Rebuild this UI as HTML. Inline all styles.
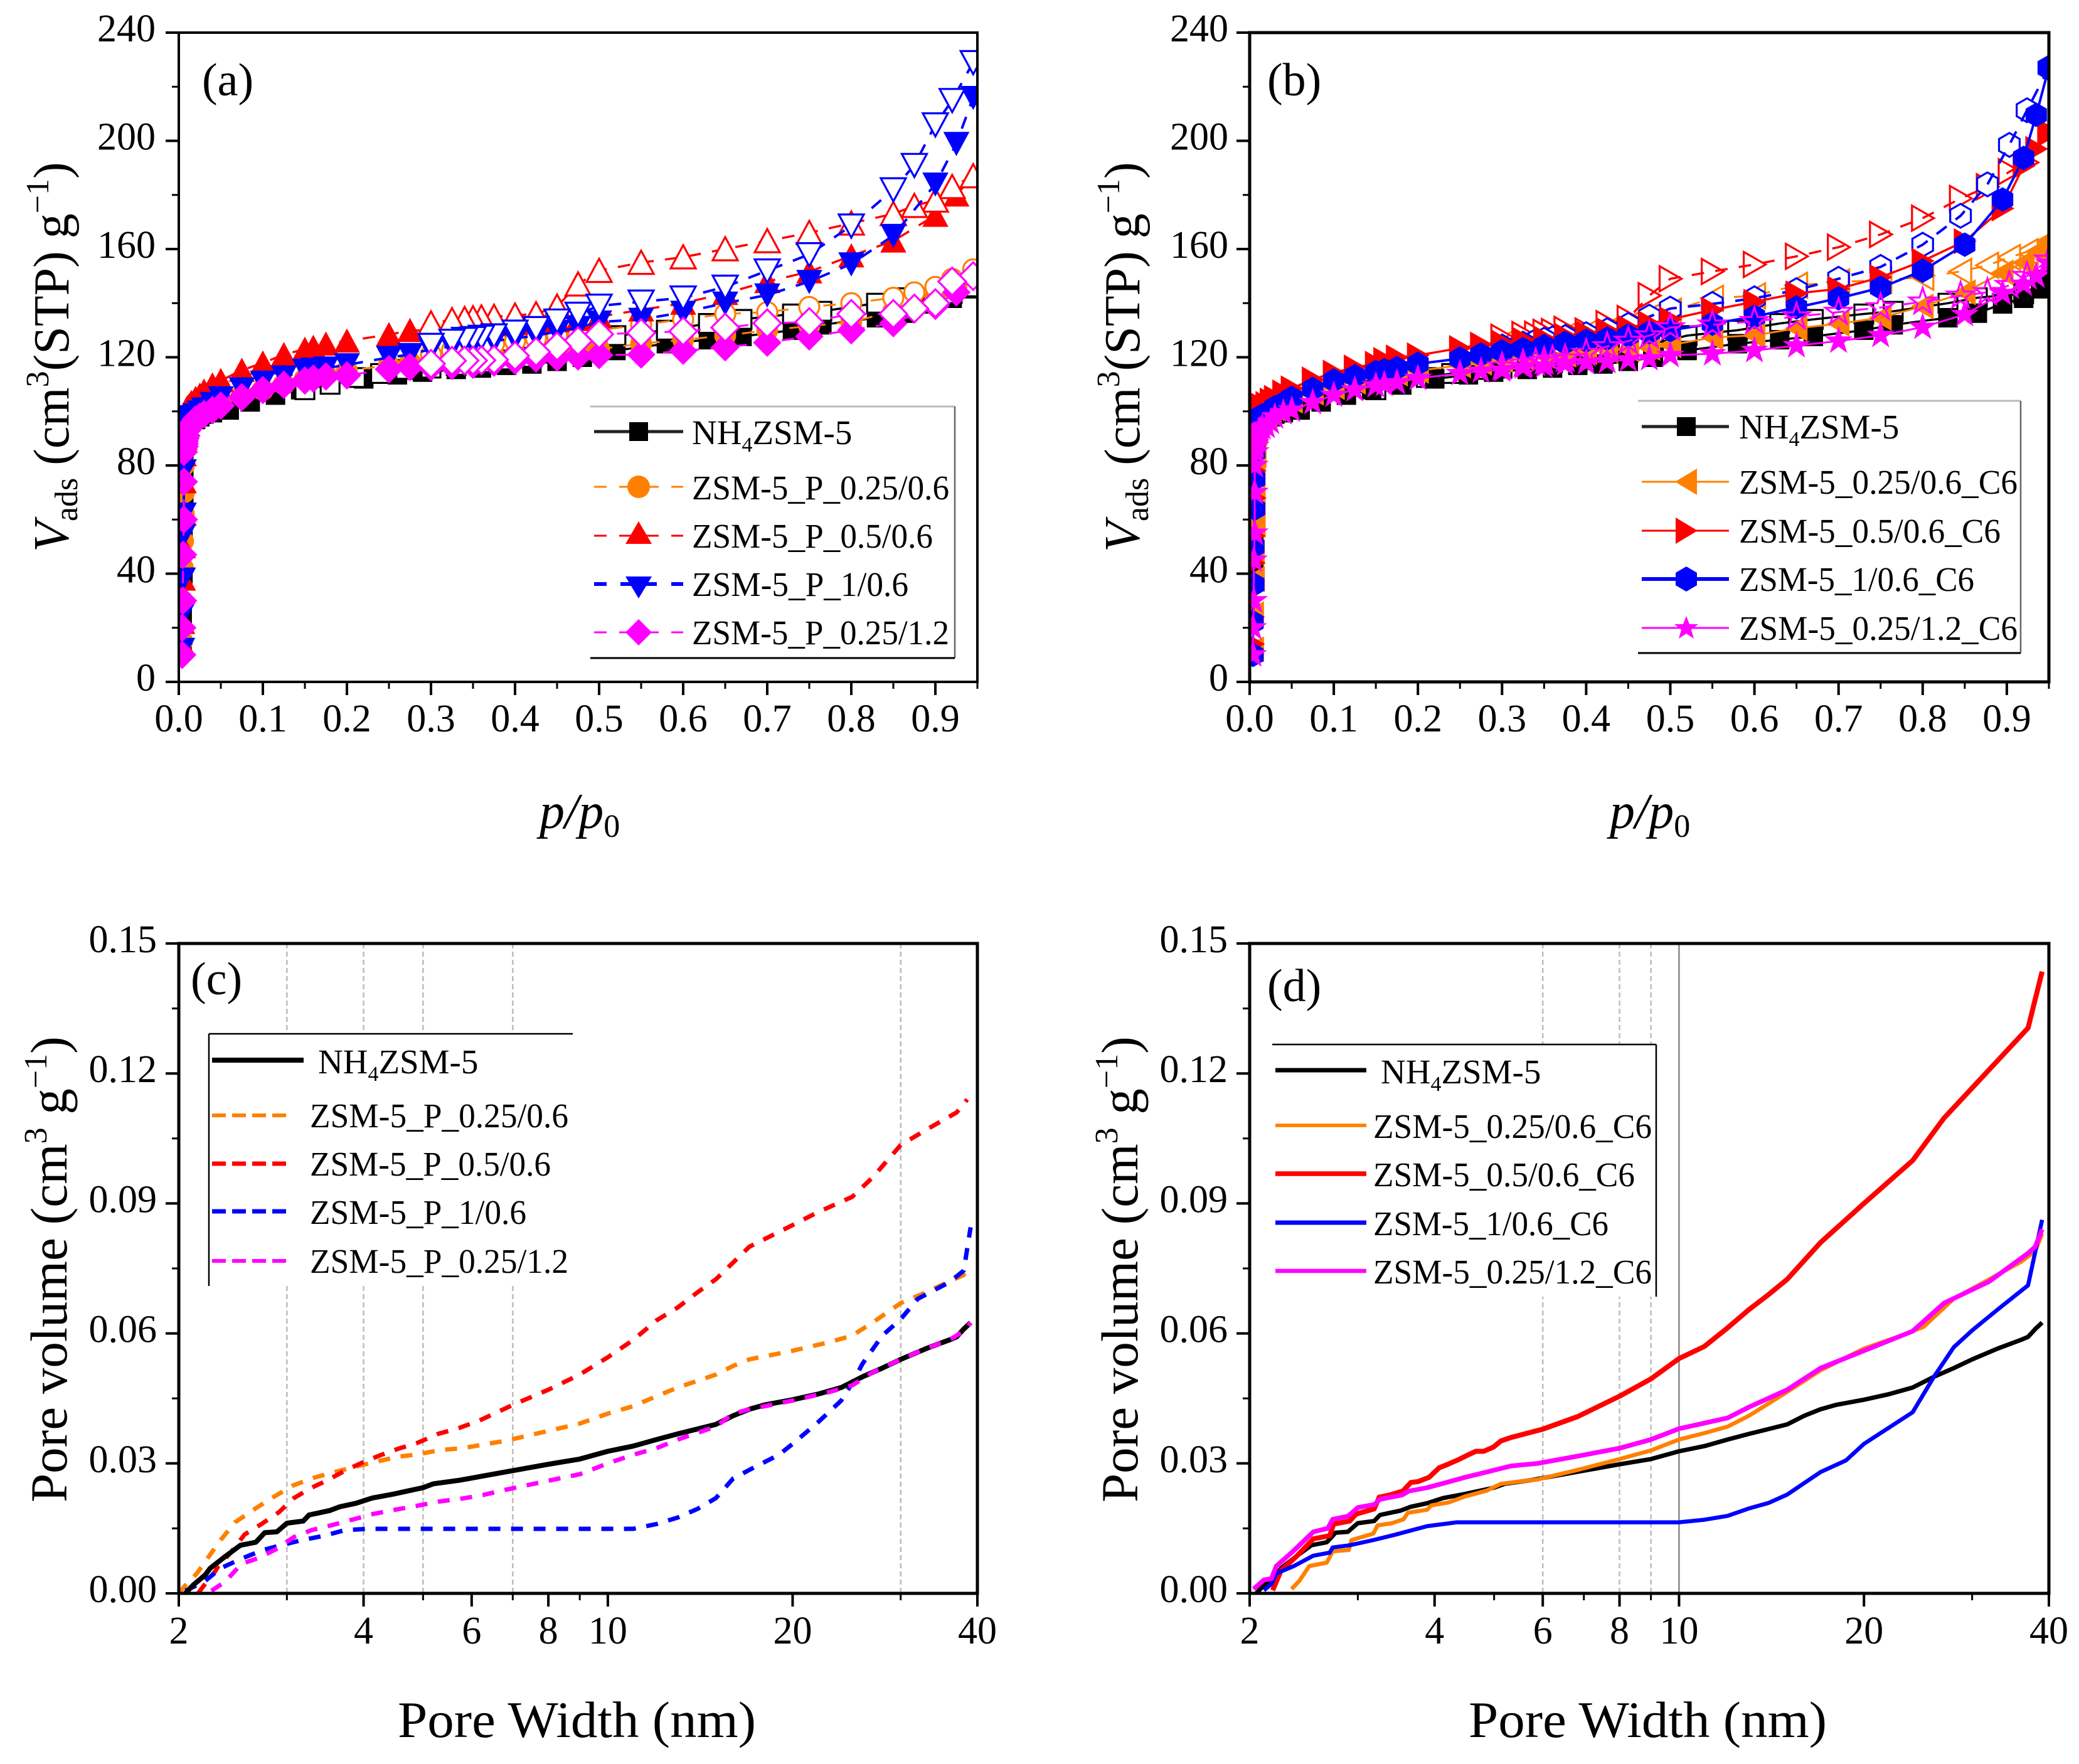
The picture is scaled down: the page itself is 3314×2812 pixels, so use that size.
<!DOCTYPE html>
<html lang="en">
<head>
<meta charset="utf-8">
<title>N2 isotherms and pore size distributions</title>
<style>
html,body{margin:0;padding:0;background:#fff;}
svg{display:block;font-family:"Liberation Serif",serif;fill:#000;}
</style>
</head>
<body>
<svg id="figure" xmlns="http://www.w3.org/2000/svg" width="3314" height="2812" viewBox="0 0 3314 2812">
<rect width="3314" height="2812" fill="#fff"/>
<defs>
<clipPath id="clipA"><rect x="285" y="52" width="1273" height="1035"/></clipPath>
<clipPath id="clipB"><rect x="1992" y="52" width="1274" height="1035"/></clipPath>
</defs>
<g id="chartA"></g>
<g id="chartB"></g>
<g id="chartC"></g>
<g id="chartD"></g>

<!-- Panel letters -->
<text x="322" y="152" font-size="74">(a)</text>
<text x="2020" y="152" font-size="74">(b)</text>
<text x="304" y="1585" font-size="74">(c)</text>
<text x="2020" y="1596" font-size="74">(d)</text>

<!-- Axis titles -->
<text transform="translate(109,880) rotate(-90)" font-size="80"><tspan font-style="italic">V</tspan><tspan font-size="52" dy="14">ads</tspan><tspan dy="-14"> (cm</tspan><tspan font-size="52" dy="-32">3</tspan><tspan dy="32">(STP) g</tspan><tspan font-size="52" dy="-32">−1</tspan><tspan dy="32">)</tspan></text>
<text transform="translate(1816,880) rotate(-90)" font-size="80"><tspan font-style="italic">V</tspan><tspan font-size="52" dy="14">ads</tspan><tspan dy="-14"> (cm</tspan><tspan font-size="52" dy="-32">3</tspan><tspan dy="32">(STP) g</tspan><tspan font-size="52" dy="-32">−1</tspan><tspan dy="32">)</tspan></text>
<text transform="translate(106,2395) rotate(-90)" font-size="83">Pore volume (cm<tspan font-size="52" dy="-32">3</tspan><tspan dy="32"> g</tspan><tspan font-size="52" dy="-32">−1</tspan><tspan dy="32">)</tspan></text>
<text transform="translate(1813,2395) rotate(-90)" font-size="83">Pore volume (cm<tspan font-size="52" dy="-32">3</tspan><tspan dy="32"> g</tspan><tspan font-size="52" dy="-32">−1</tspan><tspan dy="32">)</tspan></text>
<text x="860" y="1320" font-size="80" font-style="italic">p/p<tspan font-size="52" font-style="normal" dy="14">0</tspan></text>
<text x="2566" y="1320" font-size="80" font-style="italic">p/p<tspan font-size="52" font-style="normal" dy="14">0</tspan></text>
<text x="634" y="2769" font-size="82" textLength="571" lengthAdjust="spacingAndGlyphs">Pore Width (nm)</text>
<text x="2341" y="2769" font-size="82" textLength="571" lengthAdjust="spacingAndGlyphs">Pore Width (nm)</text>

<!-- Legend A -->
<g>
<rect x="941" y="648" width="581" height="401" fill="#fff"/>
<line x1="941" x2="1522" y1="648" y2="648" stroke="#bbb" stroke-width="3"/>
<line x1="1522" x2="1522" y1="648" y2="1049" stroke="#666" stroke-width="2.5"/>
<line x1="941" x2="1522" y1="1049" y2="1049" stroke="#000" stroke-width="3"/>
<g>
<line x1="947" x2="1089" y1="688" y2="688" stroke="#222" stroke-width="5"/>
<rect x="1003" y="673" width="30" height="30" fill="#000"/>
<text x="1103" y="708" font-size="55">NH<tspan font-size="34" dy="12">4</tspan><tspan dy="-12">ZSM-5</tspan></text>
</g>
<g>
<path d="M947 776H967M987 776H1050M1070 776H1089" stroke="#FF8000" stroke-width="3" fill="none"/>
<circle cx="1018" cy="776" r="18" fill="#FF8000"/>
<text x="1103" y="796" font-size="55" textLength="410" lengthAdjust="spacingAndGlyphs">ZSM-5_P_0.25/0.6</text>
</g>
<g>
<path d="M947 854H967M987 854H1050M1070 854H1089" stroke="#FF0000" stroke-width="3" fill="none"/>
<polygon points="1018,831 1039,867 997,867" fill="#FF0000"/>
<text x="1103" y="873" font-size="55" textLength="384" lengthAdjust="spacingAndGlyphs">ZSM-5_P_0.5/0.6</text>
</g>
<g>
<path d="M947 931H967M989 931H1047M1070 931H1089" stroke="#0000FF" stroke-width="6" fill="none"/>
<polygon points="997,919 1039,919 1018,954" fill="#0000FF"/>
<text x="1103" y="950" font-size="55" textLength="345" lengthAdjust="spacingAndGlyphs">ZSM-5_P_1/0.6</text>
</g>
<g>
<path d="M947 1008H967M987 1008H1050M1070 1008H1089" stroke="#FF00FF" stroke-width="3" fill="none"/>
<polygon points="1018,987 1039,1008 1018,1029 997,1008" fill="#FF00FF"/>
<text x="1103" y="1027" font-size="55" textLength="410" lengthAdjust="spacingAndGlyphs">ZSM-5_P_0.25/1.2</text>
</g>
</g>

<!-- Legend B -->
<g>
<rect x="2611" y="639" width="610" height="402" fill="#fff"/>
<line x1="2611" x2="3221" y1="639" y2="639" stroke="#bbb" stroke-width="3"/>
<line x1="3221" x2="3221" y1="639" y2="1041" stroke="#666" stroke-width="2.5"/>
<line x1="2611" x2="3221" y1="1041" y2="1041" stroke="#000" stroke-width="3"/>
<g>
<line x1="2617" x2="2756" y1="680" y2="680" stroke="#222" stroke-width="5"/>
<rect x="2673" y="665" width="30" height="30" fill="#000"/>
<text x="2772" y="699" font-size="55">NH<tspan font-size="34" dy="12">4</tspan><tspan dy="-12">ZSM-5</tspan></text>
</g>
<g>
<line x1="2617" x2="2756" y1="768" y2="768" stroke="#FF8000" stroke-width="3"/>
<polygon points="2670,768 2705,747 2705,789" fill="#FF8000"/>
<text x="2772" y="787" font-size="55" textLength="444" lengthAdjust="spacingAndGlyphs">ZSM-5_0.25/0.6_C6</text>
</g>
<g>
<line x1="2617" x2="2756" y1="846" y2="846" stroke="#FF0000" stroke-width="3"/>
<polygon points="2706,846 2671,825 2671,867" fill="#FF0000"/>
<text x="2772" y="865" font-size="55" textLength="417" lengthAdjust="spacingAndGlyphs">ZSM-5_0.5/0.6_C6</text>
</g>
<g>
<line x1="2617" x2="2756" y1="923" y2="923" stroke="#0000FF" stroke-width="6"/>
<polygon points="2688,903 2705,913 2705,933 2688,943 2671,933 2671,913" fill="#0000FF"/>
<text x="2772" y="942" font-size="55" textLength="375" lengthAdjust="spacingAndGlyphs">ZSM-5_1/0.6_C6</text>
</g>
<g>
<line x1="2617" x2="2756" y1="1001" y2="1001" stroke="#FF00FF" stroke-width="3"/>
<polygon points="2688,982 2693,995 2707,995 2696,1004 2700,1018 2688,1010 2676,1018 2680,1004 2669,995 2683,995" fill="#FF00FF"/>
<text x="2772" y="1020" font-size="55" textLength="444" lengthAdjust="spacingAndGlyphs">ZSM-5_0.25/1.2_C6</text>
</g>
</g>

<script>
// ---- Axis ticks ----
const isoYMajor = [0, 40, 80, 120, 160, 200, 240];
const isoYMinor = [20, 60, 100, 140, 180, 220];
const isoXMajor = [0, 0.1, 0.2, 0.3, 0.4, 0.5, 0.6, 0.7, 0.8, 0.9];
const isoXMinor = [0.05, 0.15, 0.25, 0.35, 0.45, 0.55, 0.65, 0.75, 0.85, 0.95];
const isoXLabels = ['0.0', '0.1', '0.2', '0.3', '0.4', '0.5', '0.6', '0.7', '0.8', '0.9'];
const poreYMajor = [0, 0.03, 0.06, 0.09, 0.12, 0.15];
const poreYMinor = [0.015, 0.045, 0.075, 0.105, 0.135];
const poreYLabels = ['0.00', '0.03', '0.06', '0.09', '0.12', '0.15'];
const poreXMajor = [2, 4, 6, 8, 10, 20, 40];
const poreXMinor = [3, 5, 7, 9, 30];
const gridC = [3, 4, 5, 7, 30];
const gridD = [6, 8, 9];
const gridDStrong = [10];

// ---- Relative pressures ----
const pLow = [.004, .004, .005, .005, .006, .006, .006, .007, .007, .007, .008, .009, .01, .012, .015, .02, .025, .03, .04];
const pMainA = [.05, .075, .1, .125, .15, .16, .175, .2, .25, .275, .3, .325, .35, .375, .4, .425, .45, .475, .5, .55, .6, .65, .7, .75, .8, .85, .9, .925, .945];
const pMainB = [.05, .075, .1, .125, .15, .16, .175, .2, .25, .275, .3, .325, .35, .375, .4, .425, .45, .475, .5, .55, .6, .65, .7, .75, .8, .85, .895, .92, .935, .95];
const pDesA = [.945, .92, .9, .875, .85, .8, .75, .7, .65, .6, .55, .5, .475, .45, .425, .4, .375, .36, .35, .34, .325, .3];
const pDesB = [.95, .924, .903, .877, .845, .8, .75, .7, .65, .6, .55, .5, .475, .45, .425, .4, .375, .36, .35, .34, .325, .3];
const pNh4Ads = [.06, .085, .115, .145, .18, .22, .26, .29, .33, .36, .39, .42, .45, .48, .52, .58, .63, .67, .73, .765, .83, .865, .895, .92, .94, .95];
const pNh4Des = [.95, .94, .92, .865, .83, .765, .73, .67, .63, .58, .52, .48, .45, .42, .39, .36, .33, .3, .27, .24, .21, .18, .15];

// ---- NH4ZSM-5 (both isotherm panels) ----
const nh4AdsLow = [12, 24, 40, 55, 68, 78, 84, 88, 90, 92, 93, 94, 95, 96, 96.5, 97, 98, 99, 99.5];
const nh4AdsMain = [100.5, 103.5, 106, 108, 110, 112, 113.5, 114.5, 115.5, 116, 117, 117.5, 118.5, 120, 122.5, 125, 126.5, 127.7, 130, 132, 134.6, 136.3, 139.7, 141.8, 145.3, 148.7];
const nh4Des = [148, 146, 143.5, 142, 140, 137, 136, 134, 132.5, 130, 128, 125, 122, 120, 119, 118, 117, 116, 115.5, 114, 112.5, 110, 108];

// ---- Panel (a) isotherms ----
const aOrangeLow = [15, 30, 42, 52, 62, 70, 80, 86, 89, 91, 93, 95, 96, 97, 98, 99, 100, 101, 103];
const aOrangeAds = [104, 106, 108, 110, 112, 112.5, 113.5, 115, 117, 118, 119, 119.5, 120, 120.5, 121, 121.5, 122, 122.5, 123, 125, 126.5, 128, 130, 131.5, 133, 137, 142, 146, 152];
const aOrangeDes = [152.5, 149, 146, 144, 142, 140, 138.6, 136.7, 136, 134, 132, 130, 129, 128, 127, 126, 125, 124.5, 124, 123.5, 122.5, 121];
const aRedLow = [14, 22, 38, 50, 62, 74, 84, 90, 94, 97, 98.5, 100, 101.3, 102, 103.3, 104.8, 106, 107.5, 109.8];
const aRedAds = [111.4, 115.2, 117.9, 121, 123, 123.7, 124.9, 126, 128.4, 129.9, 130, 131, 131.5, 132, 132.5, 133, 133.5, 134, 135, 137.5, 140, 143.6, 148, 151.6, 157.5, 163, 172.5, 180, 187];
const aRedDes = [187, 183, 178, 176, 173, 169.5, 166, 163, 160, 157, 155, 152, 147, 138.8, 136, 135.5, 135, 134.8, 134.5, 134.2, 133.8, 132.6];
const aBlueLow = [12, 25, 38, 54, 62, 78, 88, 92, 93, 94, 95, 96, 97, 97.5, 98, 98.6, 99.7, 100.9, 102.9];
const aBlueAds = [105, 108.3, 110.8, 112.7, 115.2, 115.6, 116, 117.2, 119.9, 121, 123, 124, 125, 126, 127, 128, 129.5, 131, 133, 134, 136.6, 140, 143, 148, 154.5, 165, 184, 199, 216];
const aBlueDes = [229, 215, 206, 191, 182, 168.6, 158, 152, 146, 142, 140.5, 139, 136, 133.5, 130.7, 129.4, 128, 127.5, 127, 126.7, 126, 124.5];
const aMagentaLow = [10, 20, 30, 47, 60, 74, 85, 87, 88, 89, 90, 91, 93, 94, 95, 97, 98, 99, 100.5];
const aMagentaAds = [102.1, 105.2, 107.9, 109.8, 111.4, 112.1, 112.9, 113.3, 115.6, 116.4, 116.4, 116.8, 117.2, 118, 118.7, 119.5, 119.9, 120.3, 120.8, 121, 122.4, 123.7, 125.4, 127.7, 130, 132.6, 139, 144, 150];
const aMagentaDes = [150, 148, 140, 138, 136, 136, 133, 132.6, 131, 129.6, 129, 128.5, 126, 124, 122, 120.5, 119.1, 118.9, 118.8, 118.8, 118.7, 117.6];

// ---- Panel (b) isotherms ----
const bOrangeLow = [12, 25, 38, 48, 58, 66, 76, 84, 88, 90, 92, 93, 95, 96, 97, 99, 100, 101, 102.5];
const bOrangeAds = [104, 107, 109, 111, 112.5, 113, 114, 115, 117, 118, 119, 120, 120.5, 121, 122, 122.5, 123, 123.5, 124.5, 127.3, 128.1, 130.7, 132.4, 134.6, 138.8, 144, 151.3, 155, 159, 163.3];
const bOrangeDes = [163, 159, 156.9, 154, 151.7, 149.6, 148.5, 147.8, 146.6, 142.7, 141.8, 137, 135, 132, 130, 129, 128, 127.5, 127, 126.5, 126, 125];
const bRedLow = [14, 24, 44, 54, 68, 78, 88, 92, 94, 96, 97, 98.5, 100, 101, 102, 102.7, 104, 105, 107];
const bRedAds = [108.5, 111.8, 114.3, 116.2, 117.6, 119, 119.9, 120.7, 123.4, 124.7, 125.5, 126.5, 127, 128, 129, 130, 131, 132.5, 134, 137.5, 140.5, 143.6, 145.3, 149.6, 155.6, 162.9, 175, 190.7, 197, 203];
const bRedDes = [203, 192, 188.6, 183, 178.7, 171.4, 165.4, 160.7, 157.3, 154.3, 151.7, 149, 142.8, 134.3, 132.4, 129.7, 130.3, 129.5, 129.2, 128.5, 128.4, 127.4];
const bBlueLow = [10, 22, 36, 50, 64, 75, 85, 90, 92, 94, 95, 96, 97, 98, 98.5, 99, 100, 101.5, 103];
const bBlueAds = [105, 108.3, 111.4, 113, 114.5, 115.2, 116, 117.6, 119.5, 121, 122.2, 123, 124.2, 125.3, 126.1, 126.9, 128, 129.2, 130, 132.4, 135, 138.4, 141.8, 145.7, 152, 161.6, 178.3, 193.7, 209.6, 227.2];
const bBlueDes = [227, 211.3, 198.5, 183.9, 172.3, 161.6, 153.4, 149, 144.8, 141.8, 139.7, 138, 135, 132, 130, 128.5, 127.5, 127, 126.5, 126, 125, 124];
const bMagentaLow = [10, 20, 30, 45, 55, 70, 80, 85, 87, 88, 89, 90, 92, 93, 94, 94.5, 96, 98, 99.5];
const bMagentaAds = [100.5, 103.3, 106, 108, 109.5, 110, 110.6, 112.2, 114, 114.9, 115.3, 116.4, 116.8, 117.6, 118, 118.4, 119.1, 119.5, 120.7, 121.3, 122.5, 124.3, 126, 128.1, 131.1, 135.8, 143.6, 147, 150, 154.7];
const bMagentaDes = [156, 150, 146.6, 144, 142.7, 140.5, 138.4, 136.7, 135, 133.3, 132, 131, 128, 126, 124, 121.5, 119.5, 119, 118.5, 118, 117.5, 116.5];

// ---- Pore size curves ----
const blackW = [2.05, 2.11, 2.21, 2.25, 2.38, 2.52, 2.67, 2.76, 2.89, 3, 3.19, 3.26, 3.52, 3.66, 3.89, 4.13, 4.47, 5, 5.2, 5.73, 6.8, 8, 9, 10, 11, 12, 13, 15, 16, 17, 18, 20, 22, 24, 26, 28, 30, 33, 36, 37, 38, 39];
const blackV = [0, .0019, .0043, .0058, .0085, .0111, .0118, .014, .0142, .0162, .0167, .0181, .0191, .02, .0208, .022, .0229, .0244, .0253, .0261, .028, .0298, .031, .0328, .034, .0355, .0368, .039, .041, .0425, .0435, .0447, .046, .0475, .05, .052, .054, .0565, .0585, .0592, .061, .0625];
const cOrangeW = [2, 2.04, 2.14, 2.23, 2.34, 2.47, 2.66, 2.85, 3.07, 3.32, 3.59, 3.87, 4.2, 4.54, 4.91, 5.34, 5.8, 6.3, 6.8, 8, 9, 10, 11, 12, 13, 15, 16, 17, 20, 23, 25, 27, 30, 33, 36, 38, 38.5];
const cOrangeV = [0, .0015, .0046, .0082, .0123, .0164, .0195, .0222, .0249, .0267, .028, .0292, .0304, .0315, .0321, .0331, .0335, .0344, .0352, .0375, .0392, .0415, .0432, .0455, .0475, .0505, .0525, .054, .056, .058, .0595, .0625, .067, .0695, .072, .0735, .075];
const cRedW = [2.15, 2.2, 2.29, 2.32, 2.43, 2.56, 2.72, 2.91, 3.08, 3.27, 3.48, 3.75, 4, 4.28, 4.56, 4.89, 5.29, 5.73, 6.18, 6.65, 7, 8, 9, 10, 11, 12, 13, 14, 15, 17, 20, 22, 25, 27, 30, 33, 37, 38.5];
const cRedV = [0, .0019, .005, .0063, .0094, .0136, .0159, .0187, .022, .0242, .026, .0285, .0303, .032, .0334, .0347, .0368, .0382, .0399, .042, .0435, .047, .0505, .0545, .0585, .063, .066, .0695, .0725, .08, .085, .088, .0915, .096, .1035, .107, .111, .114];
const cBlueW = [2.05, 2.2, 2.34, 2.53, 2.73, 2.93, 3.18, 3.45, 3.73, 4.07, 5, 6, 8, 11, 12, 13, 14, 15, 16, 17, 19, 20, 22, 24, 25, 26, 28, 30, 32, 36, 38, 39];
const cBlueV = [.0006, .0027, .0058, .008, .0099, .0111, .0123, .0133, .0146, .0149, .0149, .0149, .0149, .0149, .016, .0175, .0195, .022, .0265, .0285, .032, .0345, .0395, .0445, .0485, .053, .0595, .0633, .068, .0718, .0745, .0845];
const cMagentaW = [2.26, 2.38, 2.53, 2.7, 2.88, 3.08, 3.29, 3.54, 3.83, 4.14, 4.5, 4.88, 5.31, 5.8, 6.26, 6.76, 8, 9, 10, 11, 12, 13, 15, 16, 17, 20, 23, 25, 27, 30, 33, 36, 38, 39];
const cMagentaV = [.0006, .0027, .0068, .0082, .0102, .013, .0146, .0157, .017, .0183, .0193, .0202, .0212, .0219, .0227, .0238, .026, .0275, .03, .032, .0335, .0355, .0385, .0415, .0425, .0445, .0465, .048, .051, .054, .0565, .0585, .0605, .0625];
const dOrangeW = [2.34, 2.41, 2.5, 2.67, 2.73, 2.9, 2.93, 3.18, 3.23, 3.41, 3.56, 3.62, 3.89, 3.95, 4.22, 4.49, 4.86, 5.13, 5.89, 6.84, 8, 9, 10, 11, 12, 13, 15, 17, 20, 23, 25, 28, 32, 36, 38, 39];
const dOrangeV = [.001, .0029, .0063, .0071, .0097, .01, .0123, .0138, .0157, .0162, .0171, .0186, .0193, .0203, .021, .0224, .0237, .0253, .0263, .0285, .031, .033, .0355, .037, .0385, .041, .0465, .0515, .0565, .0595, .0615, .068, .0725, .0765, .079, .083];
const dRedW = [2.18, 2.25, 2.39, 2.54, 2.7, 2.74, 2.91, 2.98, 3.19, 3.25, 3.38, 3.55, 3.66, 3.76, 3.92, 4.07, 4.19, 4.38, 4.51, 4.67, 4.81, 4.99, 5.13, 5.33, 6, 6.84, 8, 9, 10, 11, 12, 13, 14, 15, 17, 20, 24, 27, 37, 39];
const dRedV = [.0007, .0053, .0087, .0126, .0133, .016, .0167, .0183, .0195, .0222, .0227, .0236, .0256, .0258, .0268, .029, .0297, .0309, .0318, .0328, .0328, .0338, .0352, .036, .0379, .0408, .0455, .0495, .0542, .057, .0613, .0655, .069, .0725, .081, .09, .0999, .1097, .1305, .1435];
const dBlueW = [2.11, 2.17, 2.21, 2.36, 2.54, 2.7, 2.73, 2.91, 3.18, 3.44, 3.89, 4.35, 5, 6, 8, 10, 11, 12, 13, 14, 15, 16, 17, 18.7, 20, 24, 26, 28, 30, 33, 37, 39];
const dBlueV = [.0007, .0022, .0046, .0063, .0087, .0094, .0106, .0111, .0123, .0135, .0155, .0164, .0164, .0164, .0164, .0164, .017, .0179, .0196, .0209, .0228, .0255, .028, .0307, .0345, .0418, .05, .0568, .0607, .0655, .0711, .0862];
const dMagentaW = [2.03, 2.11, 2.17, 2.21, 2.34, 2.54, 2.68, 2.73, 2.89, 3, 3.19, 3.26, 3.54, 3.63, 3.89, 4.18, 4.49, 4.86, 5.33, 5.89, 6.8, 8, 9, 10, 12, 13, 15, 17, 20, 24, 27, 32, 37, 38, 39];
const dMagentaV = [.001, .0031, .0034, .0063, .0094, .0142, .015, .0171, .0178, .0198, .0205, .0217, .0227, .0236, .0244, .0256, .0268, .028, .0294, .03, .0316, .0335, .0355, .038, .0405, .043, .047, .052, .056, .0605, .067, .072, .0785, .08, .084];

// ---- Helpers ----
const NS = 'http://www.w3.org/2000/svg';
const ORANGE = '#FF8000', RED = '#FF0000', BLUE = '#0000FF', MAGENTA = '#FF00FF', BLACK = '#000000';

function mk(tag, attrs, parent) {
  const n = document.createElementNS(NS, tag);
  for (const k in attrs) n.setAttribute(k, attrs[k]);
  parent.appendChild(n);
  return n;
}

function shapePoints(shape, x, y) {
  const pts = [];
  if (shape === 'up') { pts.push([x, y - 19], [x + 20, y + 18], [x - 20, y + 18]); }
  if (shape === 'down') { pts.push([x - 20, y - 18], [x + 20, y - 18], [x, y + 19]); }
  if (shape === 'left') { pts.push([x - 18, y], [x + 17, y - 20], [x + 17, y + 20]); }
  if (shape === 'right') { pts.push([x + 18, y], [x - 17, y - 20], [x - 17, y + 20]); }
  if (shape === 'diamond') { pts.push([x, y - 22], [x + 22, y], [x, y + 22], [x - 22, y]); }
  if (shape === 'square') { pts.push([x - 15, y - 15], [x + 15, y - 15], [x + 15, y + 15], [x - 15, y + 15]); }
  if (shape === 'hex') {
    for (let i = 0; i < 6; i++) {
      const a = -Math.PI / 2 + i * Math.PI / 3;
      pts.push([x + 19 * Math.cos(a), y + 19 * Math.sin(a)]);
    }
  }
  if (shape === 'star') {
    for (let i = 0; i < 10; i++) {
      const a = -Math.PI / 2 + i * Math.PI / 5;
      const r = i % 2 ? 8.5 : 22;
      pts.push([x + r * Math.cos(a), y + r * Math.sin(a)]);
    }
  }
  return pts.map(p => p[0].toFixed(1) + ',' + p[1].toFixed(1)).join(' ');
}

function drawFrame(g, box, xFn, yFn, xMajor, xLabels, xMinor, yMajor, yLabels, yMinor, xLabelY, yLabelX) {
  const frame = mk('rect', { x: box.x0, y: box.y1, width: box.x1 - box.x0, height: box.y0 - box.y1, fill: 'none', stroke: '#000', 'stroke-width': box.sw }, g);
  
  
  xMajor.forEach(function (v, i) {
    const t = mk('line', { x1: xFn(v), x2: xFn(v), y1: box.y0, y2: box.y0 + 21, stroke: '#000', 'stroke-width': 4 }, g);
    
    
    const l = mk('text', { x: xFn(v), y: xLabelY, 'font-size': 62, 'text-anchor': 'middle' }, g);
    l.textContent = xLabels[i];
    
    
  });
  xMinor.forEach(function (v) {
    const t = mk('line', { x1: xFn(v), x2: xFn(v), y1: box.y0, y2: box.y0 + 11, stroke: '#000', 'stroke-width': 3 }, g);
    
    
  });
  yMajor.forEach(function (v, i) {
    const t = mk('line', { x1: box.x0 - 21, x2: box.x0, y1: yFn(v), y2: yFn(v), stroke: '#000', 'stroke-width': 4 }, g);
    
    
    const l = mk('text', { x: yLabelX, y: yFn(v) + 14, 'font-size': 62, 'text-anchor': 'end' }, g);
    l.textContent = yLabels[i];
    
    
  });
  yMinor.forEach(function (v) {
    const t = mk('line', { x1: box.x0 - 11, x2: box.x0, y1: yFn(v), y2: yFn(v), stroke: '#000', 'stroke-width': 3 }, g);
    
    
  });
}

function drawIsoSeries(g, xFn, yFn, s, lineOnTop) {
  const pts = s.p.map(function (p, i) { return xFn(p).toFixed(1) + ',' + yFn(s.v[i]).toFixed(1); }).join(' ');
  const line = document.createElementNS(NS, 'polyline');
  line.setAttribute('points', pts);
  line.setAttribute('fill', 'none');
  line.setAttribute('stroke', s.color);
  line.setAttribute('stroke-width', s.width);
  if (s.dash) line.setAttribute('stroke-dasharray', s.dash);
  
  
  if (!lineOnTop) g.appendChild(line);
  s.p.forEach(function (p, i) {
    const x = xFn(p), y = yFn(s.v[i]);
    let m;
    if (s.shape === 'circle') {
      m = mk('circle', { cx: x, cy: y, r: s.open ? 16 : 17 }, g);
    } else {
      m = mk('polygon', { points: shapePoints(s.shape, x, y) }, g);
    }
    m.setAttribute('fill', s.open ? (s.hollow ? 'none' : '#fff') : s.color);
    m.setAttribute('stroke', s.color);
    m.setAttribute('stroke-width', s.open ? 3.2 : 1);
    
    
  });
  if (lineOnTop) g.appendChild(line);
}

function drawPoreSeries(g, xFn, yFn, s) {
  const pts = s.w.map(function (w, i) { return xFn(w).toFixed(1) + ',' + yFn(s.v[i]).toFixed(1); }).join(' ');
  const line = mk('polyline', { points: pts, fill: 'none', stroke: s.color, 'stroke-width': s.width, 'stroke-linejoin': 'round' }, g);
  if (s.dash) line.setAttribute('stroke-dasharray', s.dash);
  
  
}

// ---- Scales ----
const boxA = { x0: 285, x1: 1558, y0: 1087, y1: 52, sw: 4 };
const boxB = { x0: 1992, x1: 3266, y0: 1087, y1: 52, sw: 5 };
const boxC = { x0: 285, x1: 1558, y0: 2540, y1: 1504, sw: 5 };
const boxD = { x0: 1992, x1: 3266, y0: 2540, y1: 1504, sw: 5 };
const isoXScale = function (b) { return function (p) { return b.x0 + p / 0.95 * (b.x1 - b.x0); }; };
const isoYScale = function (b) { return function (v) { return b.y0 - v / 240 * (b.y0 - b.y1); }; };
const poreXScale = function (b) { return function (w) { return b.x0 + Math.log(w / 2) / Math.log(20) * (b.x1 - b.x0); }; };
const poreYScale = function (b) { return function (v) { return b.y0 - v / 0.15 * (b.y0 - b.y1); }; };
const dashIso = '20 18';
const dashPore = '19 17';

// ---- Panel (a) ----
(function () {
  const g = document.getElementById('chartA');
  const xFn = isoXScale(boxA), yFn = isoYScale(boxA);
  const plot = mk('g', { 'clip-path': 'url(#clipA)' }, g);
  
  
  const list = [
    { name: 'nh4-ads', p: pLow.concat(pNh4Ads), v: nh4AdsLow.concat(nh4AdsMain), color: BLACK, shape: 'square', width: 3.5 },
    { name: 'nh4-des', p: pNh4Des, v: nh4Des, color: BLACK, shape: 'square', open: true, width: 3.5 },
    { name: 'p-025-06-ads', p: pLow.concat(pMainA), v: aOrangeLow.concat(aOrangeAds), color: ORANGE, shape: 'circle', width: 3, dash: dashIso },
    { name: 'p-025-06-des', p: pDesA, v: aOrangeDes, color: ORANGE, shape: 'circle', open: true, width: 3, dash: dashIso },
    { name: 'p-05-06-ads', p: pLow.concat(pMainA), v: aRedLow.concat(aRedAds), color: RED, shape: 'up', width: 3.5, dash: dashIso },
    { name: 'p-05-06-des', p: pDesA, v: aRedDes, color: RED, shape: 'up', open: true, width: 3.5, dash: dashIso },
    { name: 'p-1-06-ads', p: pLow.concat(pMainA), v: aBlueLow.concat(aBlueAds), color: BLUE, shape: 'down', width: 4, dash: dashIso },
    { name: 'p-1-06-des', p: pDesA, v: aBlueDes, color: BLUE, shape: 'down', open: true, width: 4, dash: dashIso },
    { name: 'p-025-12-ads', p: pLow.concat(pMainA), v: aMagentaLow.concat(aMagentaAds), color: MAGENTA, shape: 'diamond', width: 3, dash: dashIso },
    { name: 'p-025-12-des', p: pDesA, v: aMagentaDes, color: MAGENTA, shape: 'diamond', open: true, width: 3, dash: dashIso }
  ];
  list.forEach(function (s) { drawIsoSeries(plot, xFn, yFn, s, false); });
  drawFrame(g, boxA, xFn, yFn, isoXMajor, isoXLabels, isoXMinor, isoYMajor, isoYMajor.map(String), isoYMinor, 1166, 248);
})();

// ---- Panel (b) ----
(function () {
  const g = document.getElementById('chartB');
  const xFn = isoXScale(boxB), yFn = isoYScale(boxB);
  const plot = mk('g', { 'clip-path': 'url(#clipB)' }, g);
  
  
  const list = [
    { name: 'nh4-des', p: pNh4Des, v: nh4Des, color: BLACK, shape: 'square', open: true, width: 3.5 },
    { name: 'c6-025-06-des', p: pDesB, v: bOrangeDes, color: ORANGE, shape: 'left', open: true, width: 3, dash: dashIso },
    { name: 'c6-05-06-des', p: pDesB, v: bRedDes, color: RED, shape: 'right', open: true, width: 3.5, dash: dashIso },
    { name: 'c6-1-06-des', p: pDesB, v: bBlueDes, color: BLUE, shape: 'hex', open: true, width: 4, dash: dashIso },
    { name: 'nh4-ads', p: pLow.concat(pNh4Ads), v: nh4AdsLow.concat(nh4AdsMain), color: BLACK, shape: 'square', width: 3.5 },
    { name: 'c6-025-06-ads', p: pLow.concat(pMainB), v: bOrangeLow.concat(bOrangeAds), color: ORANGE, shape: 'left', width: 3 },
    { name: 'c6-05-06-ads', p: pLow.concat(pMainB), v: bRedLow.concat(bRedAds), color: RED, shape: 'right', width: 3.5 },
    { name: 'c6-1-06-ads', p: pLow.concat(pMainB), v: bBlueLow.concat(bBlueAds), color: BLUE, shape: 'hex', width: 4 },
    { name: 'c6-025-12-des', p: pDesB, v: bMagentaDes, color: MAGENTA, shape: 'star', open: true, hollow: true, width: 3, dash: dashIso },
    { name: 'c6-025-12-ads', p: pLow.concat(pMainB), v: bMagentaLow.concat(bMagentaAds), color: MAGENTA, shape: 'star', width: 3 }
  ];
  list.forEach(function (s) { drawIsoSeries(plot, xFn, yFn, s, true); });
  drawFrame(g, boxB, xFn, yFn, isoXMajor, isoXLabels, isoXMinor, isoYMajor, isoYMajor.map(String), isoYMinor, 1166, 1958);
})();

// ---- Panel (c) ----
(function () {
  const g = document.getElementById('chartC');
  const xFn = poreXScale(boxC), yFn = poreYScale(boxC);
  gridC.forEach(function (w) {
    const l = mk('line', { x1: xFn(w), x2: xFn(w), y1: boxC.y1, y2: boxC.y0, stroke: '#bbb', 'stroke-width': 2.5, 'stroke-dasharray': '8 5' }, g);
    
    
  });
  const list = [
    { name: 'curve-p-025-06', w: cOrangeW, v: cOrangeV, color: ORANGE, width: 7, dash: dashPore },
    { name: 'curve-p-05-06', w: cRedW, v: cRedV, color: RED, width: 7, dash: dashPore },
    { name: 'curve-p-1-06', w: cBlueW, v: cBlueV, color: BLUE, width: 7, dash: dashPore },
    { name: 'curve-nh4zsm5', w: blackW, v: blackV, color: BLACK, width: 8 },
    { name: 'curve-p-025-12', w: cMagentaW, v: cMagentaV, color: MAGENTA, width: 7, dash: dashPore }
  ];
  list.forEach(function (s) { drawPoreSeries(g, xFn, yFn, s); });
  drawFrame(g, boxC, xFn, yFn, poreXMajor, poreXMajor.map(String), poreXMinor, poreYMajor, poreYLabels, poreYMinor, 2620, 250);
})();

// ---- Panel (d) ----
(function () {
  const g = document.getElementById('chartD');
  const xFn = poreXScale(boxD), yFn = poreYScale(boxD);
  gridD.forEach(function (w) {
    const l = mk('line', { x1: xFn(w), x2: xFn(w), y1: boxD.y1, y2: boxD.y0, stroke: '#bbb', 'stroke-width': 2.5, 'stroke-dasharray': '8 5' }, g);
    
    
  });
  gridDStrong.forEach(function (w) {
    const l = mk('line', { x1: xFn(w), x2: xFn(w), y1: boxD.y1, y2: boxD.y0, stroke: '#888', 'stroke-width': 2.5 }, g);
    
    
  });
  const list = [
    { name: 'curve-nh4zsm5', w: blackW, v: blackV, color: BLACK, width: 7 },
    { name: 'curve-c6-025-06', w: dOrangeW, v: dOrangeV, color: ORANGE, width: 6.5 },
    { name: 'curve-c6-05-06', w: dRedW, v: dRedV, color: RED, width: 8 },
    { name: 'curve-c6-1-06', w: dBlueW, v: dBlueV, color: BLUE, width: 6.5 },
    { name: 'curve-c6-025-12', w: dMagentaW, v: dMagentaV, color: MAGENTA, width: 7.5 }
  ];
  list.forEach(function (s) { drawPoreSeries(g, xFn, yFn, s); });
  drawFrame(g, boxD, xFn, yFn, poreXMajor, poreXMajor.map(String), poreXMinor, poreYMajor, poreYLabels, poreYMinor, 2620, 1957);
})();
</script>

<!-- Legend C -->
<g>
<rect x="333" y="1648" width="580" height="402" fill="#fff"/>
<line x1="333" x2="913" y1="1648" y2="1648" stroke="#000" stroke-width="2.5"/>
<line x1="333" x2="333" y1="1648" y2="2050" stroke="#000" stroke-width="2.5"/>
<g>
<line x1="338" x2="484" y1="1690" y2="1690" stroke="#000" stroke-width="8"/>
<text x="507" y="1711" font-size="55">NH<tspan font-size="34" dy="12">4</tspan><tspan dy="-12">ZSM-5</tspan></text>
</g>
<g>
<line x1="338" x2="465" y1="1778" y2="1778" stroke="#FF8000" stroke-width="6" stroke-dasharray="22 10"/>
<text x="494" y="1797" font-size="55" textLength="412" lengthAdjust="spacingAndGlyphs">ZSM-5_P_0.25/0.6</text>
</g>
<g>
<line x1="338" x2="465" y1="1855" y2="1855" stroke="#FF0000" stroke-width="7" stroke-dasharray="22 10"/>
<text x="494" y="1874" font-size="55" textLength="384" lengthAdjust="spacingAndGlyphs">ZSM-5_P_0.5/0.6</text>
</g>
<g>
<line x1="338" x2="465" y1="1931" y2="1931" stroke="#0000FF" stroke-width="7" stroke-dasharray="22 10"/>
<text x="494" y="1951" font-size="55" textLength="345" lengthAdjust="spacingAndGlyphs">ZSM-5_P_1/0.6</text>
</g>
<g>
<line x1="338" x2="465" y1="2010" y2="2010" stroke="#FF00FF" stroke-width="6" stroke-dasharray="22 10"/>
<text x="494" y="2029" font-size="55" textLength="412" lengthAdjust="spacingAndGlyphs">ZSM-5_P_0.25/1.2</text>
</g>
</g>

<!-- Legend D -->
<g>
<rect x="2028" y="1665" width="612" height="402" fill="#fff"/>
<line x1="2028" x2="2640" y1="1665" y2="1665" stroke="#000" stroke-width="2.5"/>
<line x1="2640" x2="2640" y1="1665" y2="2067" stroke="#000" stroke-width="2.5"/>
<g>
<line x1="2033" x2="2178" y1="1706" y2="1706" stroke="#000" stroke-width="7"/>
<text x="2201" y="1727" font-size="55">NH<tspan font-size="34" dy="12">4</tspan><tspan dy="-12">ZSM-5</tspan></text>
</g>
<g>
<line x1="2033" x2="2178" y1="1794" y2="1794" stroke="#FF8000" stroke-width="5.5"/>
<text x="2189" y="1814" font-size="55" textLength="444" lengthAdjust="spacingAndGlyphs">ZSM-5_0.25/0.6_C6</text>
</g>
<g>
<line x1="2033" x2="2178" y1="1871" y2="1871" stroke="#FF0000" stroke-width="7.5"/>
<text x="2189" y="1891" font-size="55" textLength="417" lengthAdjust="spacingAndGlyphs">ZSM-5_0.5/0.6_C6</text>
</g>
<g>
<line x1="2033" x2="2178" y1="1949" y2="1949" stroke="#0000FF" stroke-width="7"/>
<text x="2189" y="1969" font-size="55" textLength="375" lengthAdjust="spacingAndGlyphs">ZSM-5_1/0.6_C6</text>
</g>
<g>
<line x1="2033" x2="2178" y1="2026" y2="2026" stroke="#FF00FF" stroke-width="6.5"/>
<text x="2189" y="2046" font-size="55" textLength="444" lengthAdjust="spacingAndGlyphs">ZSM-5_0.25/1.2_C6</text>
</g>
</g>
</svg>
</body>
</html>
